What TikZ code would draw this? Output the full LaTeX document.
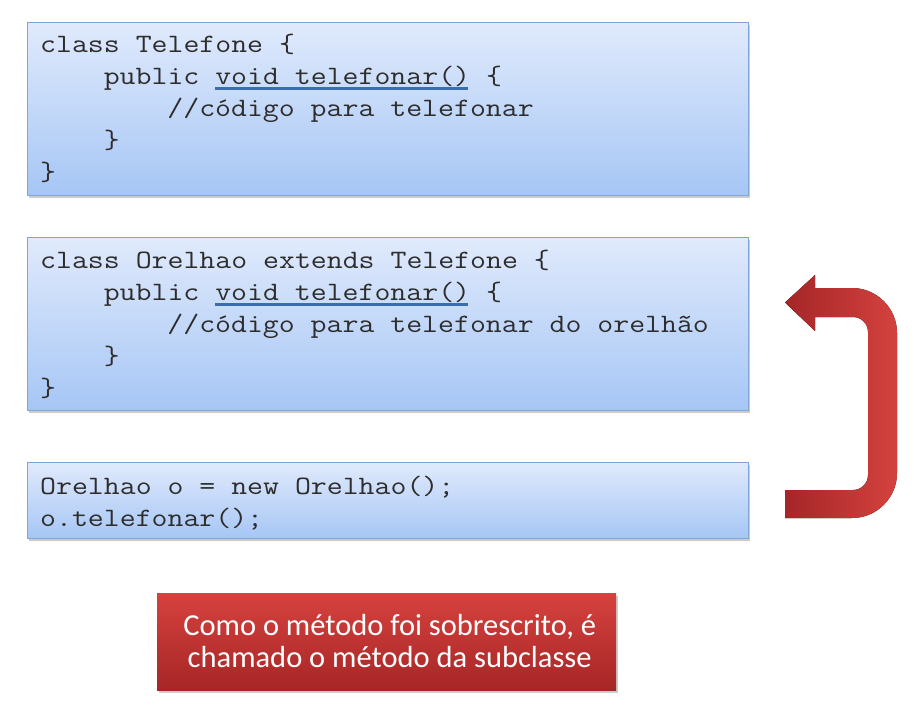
\documentclass[tikz,border=0pt]{standalone}
\usepackage{fontspec}
\usepackage{graphicx}
\newfontfamily\notefont{Carlito}
\usetikzlibrary{shadows}
\definecolor{boxtop}{RGB}{224,234,252}
\definecolor{boxbot}{RGB}{166,198,245}
\definecolor{boxline}{RGB}{128,165,215}
\definecolor{ulinecol}{RGB}{60,110,175}
\definecolor{codecol}{RGB}{45,45,45}
\definecolor{redtop}{RGB}{214,66,62}
\definecolor{redbot}{RGB}{166,38,38}
\definecolor{arrleft}{RGB}{165,38,40}
\definecolor{arrright}{RGB}{212,66,62}
\newcommand{\cl}[1]{\scalebox{1.167}[1]{#1}}
\tikzset{
  codebox/.style={draw=boxline, line width=0.8pt, top color=boxtop, bottom color=boxbot, inner sep=0pt, anchor=north west,
    drop shadow={opacity=0.4, shadow xshift=1.5pt, shadow yshift=-2.5pt}},
  code/.style={font=\ttfamily\fontsize{26.5}{32}\selectfont\addfontfeatures{FakeBold=0.4}, text=codecol, inner sep=0pt, anchor=base west},
  uline/.style={draw=ulinecol, line width=3pt},
  notebox/.style={top color=redtop, bottom color=redbot, inner sep=0pt, anchor=north west,
    drop shadow={opacity=0.4, shadow xshift=1.5pt, shadow yshift=-2.5pt}},
  notetext/.style={font=\notefont\fontsize{30.5}{32}\selectfont, text=white, align=center, inner sep=0pt}
}
\begin{document}
\begin{tikzpicture}[x=1pt,y=-1pt]
\useasboundingbox[fill=white] (0,0) rectangle (924,713);
% boxes
\node[codebox, minimum width=721pt, minimum height=173pt] (b1) at (27,22) {};
\node[codebox, minimum width=721pt, minimum height=173pt] (b2) at (27,237) {};
\node[codebox, minimum width=721pt, minimum height=76pt] (b3) at (27,462) {};
% box 1 text
\node[code] (t11) at (40,52) {\cl{class Telefone \{}};
\node[code] (t12) at (103.6,84) {\cl{public void telefonar() \{}};
\node[code] (t13) at (167.2,116) {\cl{//código para telefonar}};
\node[code] (t14) at (103.6,148) {\cl{\}}};
\node[code] (t15) at (40,180) {\cl{\}}};
\coordinate (u1a) at (214.9,88.5);
\coordinate (u1b) at (468,88.5);
\draw[uline] (u1a) -- (u1b);
% box 2 text
\node[code] (t21) at (40,268) {\cl{class Orelhao extends Telefone \{}};
\node[code] (t22) at (103.6,300) {\cl{public void telefonar() \{}};
\node[code] (t23) at (167.2,332) {\cl{//código para telefonar do orelhão}};
\node[code] (t24) at (103.6,364) {\cl{\}}};
\node[code] (t25) at (40,396) {\cl{\}}};
\coordinate (u2a) at (214.9,304);
\coordinate (u2b) at (468,304);
\draw[uline] (u2a) -- (u2b);
% box 3 text
\node[code] (t31) at (40,494) {\cl{Orelhao o = new Orelhao();}};
\node[code] (t32) at (40,526) {\cl{o.telefonar();}};
% red note
\node[notebox, minimum width=459pt, minimum height=97pt] (note) at (157,593) {};
\node[notetext] (notet) at ([xshift=3pt,yshift=1pt]note.center) {Como o método foi sobrescrito, é\\chamado o método da subclasse};
% curved arrow
\fill[left color=arrleft, right color=arrright]
  (785,518) -- (852,518) .. controls (876.8,518) and (897,497.8) .. (897,473)
  -- (897,333) .. controls (897,308.2) and (876.8,288) .. (852,288)
  -- (815,288) -- (815,275) -- (785,302.5) -- (815,331) -- (815,317)
  -- (853,317) .. controls (861.3,317) and (868,323.7) .. (868,332)
  -- (868,475) .. controls (868,483.3) and (861.3,490) .. (853,490)
  -- (785,490) -- cycle;
\end{tikzpicture}
\end{document}
